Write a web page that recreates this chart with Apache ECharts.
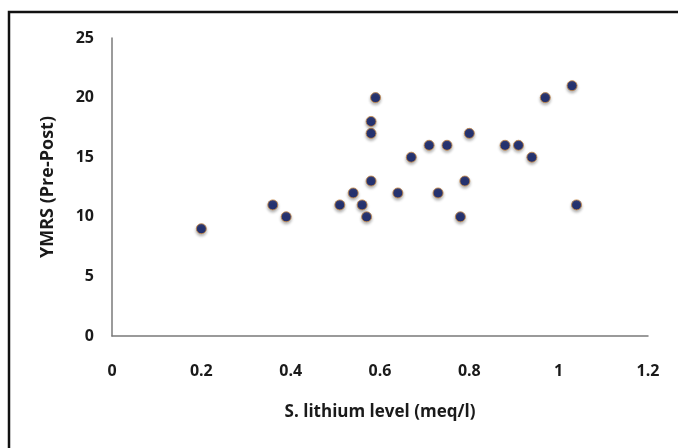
<!DOCTYPE html>
<html>
<head>
<meta charset="utf-8">
<script src="https://cdn.jsdelivr.net/npm/echarts@6/dist/echarts.min.js"></script>
<style>
	html, body { margin: 0; padding: 0; background: #fff; }
	#chart { width: 678px; height: 448px; }
</style>
</head>
<body>
<div id="chart"></div>
<script>
// Serum lithium level (meq/l) vs YMRS change (pre-post)
var lithiumLevel = [0.2, 0.36, 0.39, 0.51, 0.54, 0.56, 0.57, 0.58, 0.58, 0.58, 0.59, 0.64, 0.67,
	0.71, 0.73, 0.75, 0.78, 0.79, 0.80, 0.88, 0.91, 0.94, 0.97, 1.03, 1.04];
var ymrsChange = [9, 11, 10, 11, 12, 11, 10, 13, 17, 18, 20, 12, 15,
	16, 12, 16, 10, 13, 17, 16, 16, 15, 20, 21, 11];

var xTicks = [0, 0.2, 0.4, 0.6, 0.8, 1, 1.2];
var yTicks = [0, 5, 10, 15, 20, 25];

var points = lithiumLevel.map(function (v, i) {
	return [v, ymrsChange[i]];
});

var font = "'Open Sans', 'Liberation Sans', sans-serif";

var chart = echarts.init(document.getElementById("chart"));
chart.setOption({
	animation: false,
	backgroundColor: "#fff",
	grid: {
		left: 112,
		right: 30,
		top: 38,
		bottom: 112,
	},
	// outer frame of the figure (only the left and top edges are inside the picture)
	graphic: [
		{
			type: "rect",
			shape: { x: 9, y: 12, width: 720, height: 500 },
			style: { fill: "none", stroke: "#111", lineWidth: 2.5 },
			silent: true,
		},
	],
	xAxis: {
		type: "value",
		min: xTicks[0],
		max: xTicks[xTicks.length - 1],
		interval: 0.2,
		name: "S. lithium level (meq/l)",
		nameLocation: "middle",
		nameGap: 68,
		nameTextStyle: { fontFamily: font, fontSize: 17, fontWeight: "bold", color: "#1a1a1a" },
		splitLine: { show: false },
		axisTick: { show: false },
		axisLine: { lineStyle: { color: "#7a7a7a", width: 1.5 } },
		axisLabel: {
			margin: 27,
			fontFamily: font,
			fontSize: 16,
			fontWeight: "bold",
			color: "#1a1a1a",
		},
	},
	yAxis: {
		type: "value",
		min: yTicks[0],
		max: yTicks[yTicks.length - 1],
		interval: 5,
		name: "YMRS (Pre-Post)",
		nameLocation: "middle",
		nameGap: 55,
		nameRotate: 90,
		nameTextStyle: { fontFamily: font, fontSize: 18, fontWeight: "bold", color: "#1a1a1a" },
		splitLine: { show: false },
		axisTick: { show: false },
		axisLine: { show: true, lineStyle: { color: "#7a7a7a", width: 1.5 } },
		axisLabel: {
			margin: 18,
			fontFamily: font,
			fontSize: 16,
			fontWeight: "bold",
			color: "#1a1a1a",
		},
	},
	series: [
		{
			type: "scatter",
			data: points,
			symbol: "circle",
			symbolSize: 10,
			itemStyle: {
				color: "#00105e",
				borderColor: "#c98a45",
				borderWidth: 1,
				shadowBlur: 3,
				shadowColor: "rgba(0,0,0,0.35)",
				shadowOffsetY: 2,
			},
		},
	],
});
</script>
</body>
</html>
